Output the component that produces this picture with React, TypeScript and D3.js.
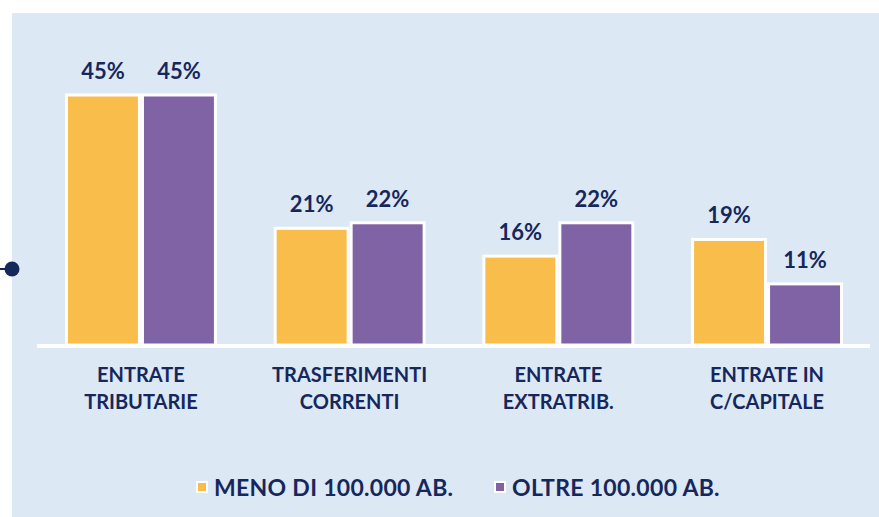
import React from "react";
import * as d3 from "d3";

const categories = [
  ["ENTRATE", "TRIBUTARIE"],
  ["TRASFERIMENTI", "CORRENTI"],
  ["ENTRATE", "EXTRATRIB."],
  ["ENTRATE IN", "C/CAPITALE"],
];
const seriesNames = ["MENO DI 100.000 AB.", "OLTRE 100.000 AB."];
const meno = [45, 21, 16, 19];
const oltre = [45, 22, 22, 11];

const W = 879;
const H = 517;
const NAVY = "#16275c";
const YELLOW = "#f9bd4c";
const PURPLE = "#8063a5";
const BG = "#dde8f5";
const FONT = "Lato, 'Open Sans', sans-serif";

export default function App() {
  const keys = categories.map((_, i) => String(i));
  const x0 = d3.scaleBand().domain(keys).range([36.6, 871.4]).paddingInner(0.272).paddingOuter(0.136);
  const x1 = d3.scaleBand().domain(["0", "1"]).range([0, x0.bandwidth()]).padding(0);
  const y = d3.scaleLinear().domain([0, 45]).range([345, 95]);
  const series = [meno, oltre];
  const colors = [YELLOW, PURPLE];

  return (
    <svg width={W} height={H} style={{ position: "absolute", left: 0, top: 0 }}>
      <rect x={0} y={0} width={W} height={H} fill="#ffffff" />
      <rect x={12} y={13} width={W - 12} height={H - 13} fill={BG} />
      <line x1={0} x2={12} y1={269} y2={269} stroke={NAVY} strokeWidth={2} />
      <circle cx={12} cy={269} r={7.5} fill={NAVY} />
      {/* baseline */}
      <line x1={37} x2={870} y1={346} y2={346} stroke="#ffffff" strokeWidth={4} />
      {keys.map((k, i) => (
        <g key={k} transform={`translate(${x0(k)},0)`}>
          {series.map((s, j) => {
            const bx = x1(String(j))!;
            const bw = x1.bandwidth();
            return (
              <g key={j}>
                <rect
                  x={bx + 1.5}
                  y={y(s[i])}
                  width={bw - 3}
                  height={y(0) - y(s[i])}
                  fill={colors[j]}
                  stroke="#ffffff"
                  strokeWidth={3}
                />
                <text
                  x={bx + bw / 2}
                  y={y(s[i]) - 16}
                  textAnchor="middle"
                  fontFamily={FONT}
                  fontWeight={700}
                  fontSize={22}
                  fill={NAVY}
                >
                  {s[i]}%
                </text>
              </g>
            );
          })}
          {categories[i].map((line, li) => (
            <text
              key={li}
              x={x0.bandwidth() / 2}
              y={382 + li * 26.5}
              textAnchor="middle"
              fontFamily={FONT}
              fontWeight={700}
              fontSize={20}
              fill={NAVY}
            >
              {line}
            </text>
          ))}
        </g>
      ))}
      {/* legend */}
      {seriesNames.map((n, j) => {
        const lx = j === 0 ? 196 : 494;
        return (
          <g key={n} transform={`translate(${lx},0)`}>
            <rect x={0} y={481} width={12} height={12} fill="#ffffff" />
            <rect x={2} y={483} width={8} height={8} fill={colors[j]} />
            <text x={18} y={496} fontFamily={FONT} fontWeight={700} fontSize={23} letterSpacing={0.3} fill={NAVY}>
              {n}
            </text>
          </g>
        );
      })}
    </svg>
  );
}
